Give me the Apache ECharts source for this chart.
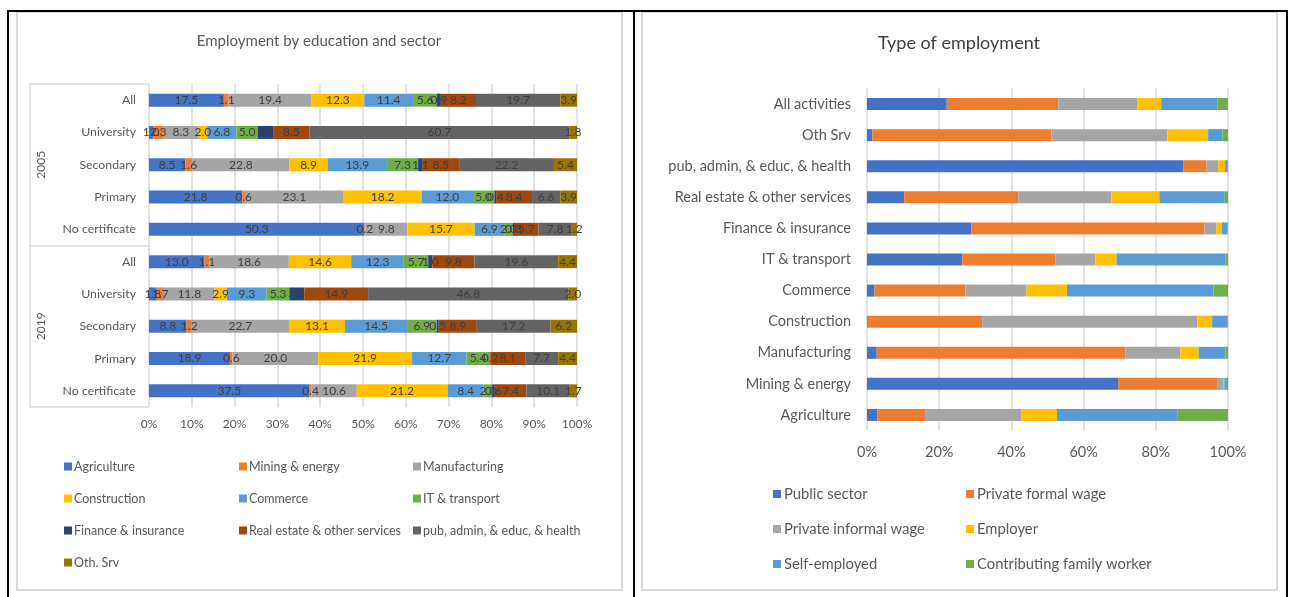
<!DOCTYPE html>
<html><head><meta charset="utf-8">
<script src="https://cdn.jsdelivr.net/npm/echarts@6/dist/echarts.min.js"></script>
<style>
html,body{margin:0;padding:0;background:#fff;width:1292px;height:597px;overflow:hidden;position:relative;}
.ln{position:absolute;background:#000;}
.box{position:absolute;border:2px solid #D9D9D9;box-sizing:border-box;background:#fff;}
#c1,#c2{position:absolute;}
</style></head>
<body>
<div class="box" style="left:16px;top:11px;width:607px;height:580px;"></div>
<div class="box" style="left:641px;top:11px;width:637px;height:580px;"></div>
<div class="ln" style="left:7px;top:10px;width:1281px;height:2px;"></div>
<div class="ln" style="left:7px;top:10px;width:2px;height:600px;"></div>
<div class="ln" style="left:633px;top:10px;width:2px;height:600px;"></div>
<div class="ln" style="left:1286px;top:10px;width:2px;height:600px;"></div>
<div id="c1" style="left:17px;top:12px;width:604px;height:578px;"></div>
<div id="c2" style="left:642px;top:12px;width:634px;height:578px;"></div>
<script>
// ---------- Left chart data ----------
const sectors = ['Agriculture','Mining & energy','Manufacturing','Construction','Commerce','IT & transport','Finance & insurance','Real estate & other services','pub, admin, & educ, & health','Oth. Srv'];
const years = ['2005','2019'];
const levels = ['All','University','Secondary','Primary','No certificate'];
// each array: 2005 All, University, Secondary, Primary, No certificate, then 2019 same order
const agriculture   = [17.5, 1.0,  8.5, 21.8, 50.3, 13.0, 1.8,  8.8, 18.9, 37.5];
const mining        = [ 1.1, 2.3,  1.6,  0.6,  0.2,  1.1, 1.7,  1.2,  0.6,  0.4];
const manufacturing = [19.4, 8.3, 22.8, 23.1,  9.8, 18.6, 11.8, 22.7, 20.0, 10.6];
const construction  = [12.3, 2.0,  8.9, 18.2, 15.7, 14.6, 2.9, 13.1, 21.9, 21.2];
const commerce      = [11.4, 6.8, 13.9, 12.0,  6.9, 12.3, 9.3, 14.5, 12.7,  8.4];
const itTransport   = [ 5.6, 5.0,  7.3,  5.0,  2.0,  5.7, 5.3,  6.9,  5.4,  2.0];
const finance       = [ 0.9, 3.6,  1.1,  0.4,  0.3,  1.0, 3.5,  0.5,  0.2,  0.6];
const realEstate    = [ 8.2, 8.5,  8.5,  8.4,  5.7,  9.8, 14.9, 8.9,  8.1,  7.4];
const pubAdmin      = [19.7, 60.7, 22.2, 6.6,  7.8, 19.6, 46.8, 17.2, 7.7, 10.1];
const othSrv        = [ 3.9, 1.8,  5.4,  3.9,  1.2,  4.4, 2.0,  6.2,  4.4,  1.7];
const xTicks1 = [0,10,20,30,40,50,60,70,80,90,100];

// ---------- Right chart data ----------
const typeCats = ['All activities','Oth Srv','pub, admin, & educ, & health','Real estate & other services','Finance & insurance','IT & transport','Commerce','Construction','Manufacturing','Mining & energy','Agriculture'];
const empTypes = ['Public sector','Private formal wage','Private informal wage','Employer','Self-employed','Contributing family worker'];
const publicSector    = [22.1, 1.5, 87.6, 10.3, 28.9, 26.4,  2.1,  0.2,  2.7, 69.7,  2.9];
const privateFormal   = [30.9, 49.6, 6.4, 31.6, 64.6, 25.8, 25.2, 31.7, 68.9, 27.3, 13.4];
const privateInformal = [21.9, 32.1, 3.3, 25.8,  3.3, 11.1, 16.9, 59.6, 15.2,  1.6, 26.5];
const employer        = [ 6.6, 11.3, 1.9, 13.3,  1.5,  5.8, 11.2,  4.1,  5.1,  0.4,  9.8];
const selfEmployed    = [15.6,  4.0, 0.6, 18.1,  1.6, 30.2, 40.6,  4.2,  7.4,  0.7, 33.5];
const familyWorker    = [ 2.9,  1.5, 0.2,  0.9,  0.1,  0.7,  4.0,  0.2,  0.7,  0.3, 13.9];
const xTicks2 = [0,20,40,60,80,100];

const FONT = 'Lato';
const colors = ['#4472C4','#ED7D31','#A5A5A5','#FFC000','#5B9BD5','#70AD47','#264478','#9E480E','#636363','#997300'];

function normalize(arrs){
  const n = arrs[0].length;
  const sums = [];
  for(let i=0;i<n;i++){ let s=0; arrs.forEach(a=>s+=a[i]); sums.push(s); }
  return arrs.map(a=>a.map((v,i)=>({value: v/sums[i]*100, raw: v})));
}

// ---------- Left chart ----------
const leftSeriesVals = [agriculture,mining,manufacturing,construction,commerce,itTransport,finance,realEstate,pubAdmin,othSrv];
const leftNorm = normalize(leftSeriesVals);
const rowKeys = [];
years.forEach(y=>levels.forEach(l=>rowKeys.push(y+'|'+l)));

const leftSeries = sectors.map((name,k)=>({
  name, type:'bar', stack:'s', xAxisIndex:0, yAxisIndex:0, barWidth:13,
  itemStyle:{color:colors[k]},
  label:{show:true, position:'inside', color:'#404040', fontFamily:FONT, fontSize:12,
    formatter:p=>p.data.raw.toFixed(1)},
  data: leftNorm[k]
}));

const leftLegendCols = [[0,3,6,9],[1,4,7],[2,5,8]];
const leftLegendX = [47,222,396];
const c1 = echarts.init(document.getElementById('c1'), null, {renderer:'canvas'});
c1.setOption({
  animation:false,
  title:{text:'Employment by education and sector', left:'center', top:22, padding:0,
    textStyle:{fontFamily:FONT, fontSize:15, fontWeight:'normal', color:'#595959'}},
  grid:{left:132, width:428, top:72, height:323},
  xAxis:{type:'value', min:0, max:100, interval:10,
    axisLine:{show:false}, axisTick:{show:false},
    splitLine:{show:true, lineStyle:{color:'#D9D9D9', width:1.5}},
    axisLabel:{formatter:'{value}%', color:'#595959', fontFamily:FONT, fontSize:12, margin:11}},
  yAxis:[
    {type:'category', inverse:true, data:rowKeys,
      axisLine:{show:false}, axisTick:{show:false},
      axisLabel:{formatter:v=>v.split('|')[1], color:'#595959', fontFamily:FONT, fontSize:12.3, margin:13}},
    {type:'category', inverse:true, data:years, position:'left', offset:119,
      axisLine:{show:true, lineStyle:{color:'#D9D9D9', width:1.5}},
      axisTick:{show:true, inside:true, length:119, interval:0, lineStyle:{color:'#D9D9D9', width:1.5}},
      axisLabel:{inside:true, rotate:90, margin:5, color:'#595959', fontFamily:FONT, fontSize:12}}
  ],
  legend: leftLegendCols.map((idxs,c)=>({
    orient:'vertical', left:leftLegendX[c], top:447, padding:0,
    itemWidth:8, itemHeight:8, itemGap:17, icon:'rect',
    data: idxs.map(i=>sectors[i]),
    textStyle:{fontFamily:FONT, fontSize:12.5, color:'#595959', lineHeight:15, padding:[0,0,0,-3]}
  })),
  series: leftSeries
});

// ---------- Right chart ----------
const rightVals = [publicSector,privateFormal,privateInformal,employer,selfEmployed,familyWorker];
const rightNorm = normalize(rightVals);
const c2 = echarts.init(document.getElementById('c2'), null, {renderer:'canvas'});
c2.setOption({
  animation:false,
  title:{text:'Type of employment', left:'center', top:22, padding:0,
    textStyle:{fontFamily:FONT, fontSize:18, fontWeight:'normal', color:'#404040'}},
  grid:{left:225, width:361, top:76.5, height:342},
  xAxis:{type:'value', min:0, max:100, interval:20,
    axisLine:{show:false}, axisTick:{show:false},
    splitLine:{show:true, lineStyle:{color:'#D9D9D9', width:1.5}},
    axisLabel:{formatter:'{value}%', color:'#595959', fontFamily:FONT, fontSize:14.5, margin:14}},
  yAxis:{type:'category', inverse:true, data:typeCats,
    axisLine:{show:false}, axisTick:{show:false},
    axisLabel:{color:'#595959', fontFamily:FONT, fontSize:14.5, margin:16}},
  legend:[[0,2,4],[1,3,5]].map((idxs,c)=>({
    orient:'vertical', left:[131,324][c], top:473, padding:0,
    itemWidth:8, itemHeight:8, itemGap:17, icon:'rect',
    data: idxs.map(i=>empTypes[i]),
    textStyle:{fontFamily:FONT, fontSize:14.8, color:'#595959', lineHeight:18, padding:[0,0,0,-2]}
  })),
  series: empTypes.map((name,k)=>({
    name, type:'bar', stack:'t', barWidth:12,
    itemStyle:{color:colors[k]},
    data: rightNorm[k]
  }))
});
</script>
</body></html>
